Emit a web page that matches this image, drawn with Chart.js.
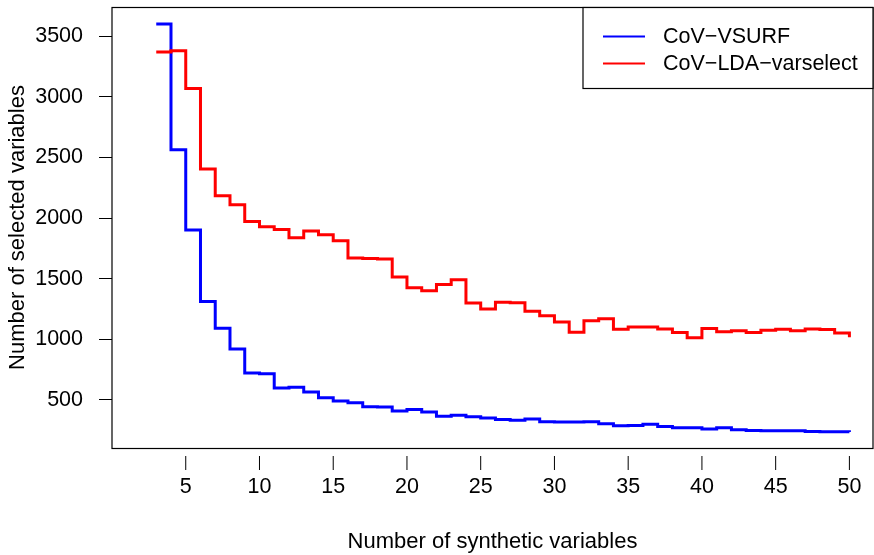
<!DOCTYPE html>
<html>
<head>
<meta charset="utf-8">
<title>Selected variables</title>
<script src="https://cdn.jsdelivr.net/npm/chart.js@4.4.1/dist/chart.umd.min.js"></script>
<style>
  html, body { margin: 0; padding: 0; background: #fff; overflow: hidden; }
  #wrap { position: relative; width: 874px; height: 555px; }
</style>
</head>
<body>
<div id="wrap"><canvas id="stepChart"></canvas></div>
<script>
// number of synthetic variables (x) and selected variables per method
const synthVars = [3, 4, 5, 6, 7, 8, 9, 10, 11, 12, 13, 14, 15, 16, 17, 18, 19, 20, 21, 22, 23, 24, 25, 26,
  27, 28, 29, 30, 31, 32, 33, 34, 35, 36, 37, 38, 39, 40, 41, 42, 43, 44, 45, 46, 47, 48, 49, 50];
const vsurfCounts = [3600, 2563, 1901, 1313, 1091, 920, 722, 716, 599, 606, 566, 519, 492, 478, 444, 442,
  409, 422, 401, 365, 374, 362, 351, 340, 332, 344, 321, 318, 318, 321, 303, 288, 289, 299, 282, 272,
  272, 260, 271, 255, 248, 247, 246, 246, 240, 239, 238, 236];
const ldaCounts = [3370, 3380, 3069, 2404, 2184, 2110, 1972, 1929, 1906, 1838, 1893, 1862, 1813, 1670,
  1667, 1663, 1515, 1425, 1400, 1453, 1491, 1300, 1251, 1305, 1301, 1232, 1194, 1144, 1059, 1154, 1170,
  1084, 1101, 1102, 1086, 1056, 1014, 1089, 1062, 1070, 1056, 1075, 1084, 1070, 1086, 1081, 1053, 1018];
const seriesNames = ["CoV\u2212VSURF", "CoV\u2212LDA\u2212varselect"];
const seriesColors = ["#0000ff", "#ff0000"];
const xTicks = [5, 10, 15, 20, 25, 30, 35, 40, 45, 50];
const yTicks = [500, 1000, 1500, 2000, 2500, 3000, 3500];

const FAMILY = '"Liberation Sans", Arial, sans-serif';
const TICK_FONT = { family: FAMILY, size: 21.5 };
const TITLE_FONT = { family: FAMILY, size: 22 };

function toPoints(values) {
  return synthVars.map((x, i) => ({ x: x, y: values[i] }));
}

// keep the plot region exactly where the fixed axis sizes put it
function noAutoPadding(axis) {
  axis.paddingTop = 0;
  axis.paddingBottom = 0;
  axis.paddingLeft = 0;
  axis.paddingRight = 0;
}

// plot frame, detached x tick marks and the boxed legend
const framePlugin = {
  id: "frame",
  afterDraw(chart) {
    const ctx = chart.ctx;
    const area = chart.chartArea;
    const xScale = chart.scales.x;
    ctx.save();
    ctx.strokeStyle = "#000";
    ctx.lineWidth = 1.2;
    ctx.strokeRect(area.left, area.top + 0.5, area.right - area.left, area.bottom - area.top);

    ctx.lineWidth = 1;
    xTicks.forEach(v => {
      const px = xScale.getPixelForValue(v);
      ctx.beginPath();
      ctx.moveTo(px, area.bottom + 8);
      ctx.lineTo(px, area.bottom + 22);
      ctx.stroke();
    });

    // legend
    const boxW = 290, boxH = 81;
    const bx = area.right - boxW, by = area.top + 0.5;
    ctx.fillStyle = "#fff";
    ctx.fillRect(bx, by, boxW, boxH);
    ctx.lineWidth = 1.2;
    ctx.strokeRect(bx, by, boxW, boxH);
    ctx.font = TICK_FONT.size + "px " + FAMILY;
    ctx.textBaseline = "middle";
    ctx.textAlign = "left";
    chart.data.datasets.forEach((ds, i) => {
      const ry = by + 29 + i * 27;
      ctx.strokeStyle = ds.borderColor;
      ctx.lineWidth = 2.2;
      ctx.beginPath();
      ctx.moveTo(bx + 20, ry);
      ctx.lineTo(bx + 62, ry);
      ctx.stroke();
      ctx.fillStyle = "#000";
      ctx.fillText(ds.label, bx + 80, ry + 1);
    });
    ctx.restore();
  }
};

new Chart(document.getElementById("stepChart"), {
  type: "line",
  data: {
    datasets: [
      {
        label: seriesNames[0],
        data: toPoints(vsurfCounts),
        borderColor: seriesColors[0],
        borderWidth: 3,
        stepped: "before",
        pointRadius: 0,
        fill: false,
        order: 1
      },
      {
        label: seriesNames[1],
        data: toPoints(ldaCounts),
        borderColor: seriesColors[1],
        borderWidth: 3,
        stepped: "before",
        pointRadius: 0,
        fill: false,
        order: 0
      }
    ]
  },
  options: {
    responsive: true,
    maintainAspectRatio: false,
    animation: false,
    layout: { padding: { top: 7, right: 1, left: 0, bottom: 0 } },
    plugins: { legend: { display: false }, tooltip: { enabled: false } },
    scales: {
      x: {
        type: "linear",
        min: 0,
        max: 51.6,
        afterBuildTicks: axis => { axis.ticks = xTicks.map(v => ({ value: v })); },
        afterFit: axis => { axis.height = 107; noAutoPadding(axis); },
        grid: { display: false },
        border: { display: false },
        ticks: {
          font: TICK_FONT,
          color: "#000",
          padding: 18,
          maxRotation: 0,
          autoSkip: false,
          callback: v => String(v)
        },
        title: {
          display: true,
          text: "Number of synthetic variables",
          font: TITLE_FONT,
          color: "#000",
          padding: { top: 0, bottom: 0 }
        }
      },
      y: {
        type: "linear",
        min: 104,
        max: 3741,
        afterBuildTicks: axis => { axis.ticks = yTicks.map(v => ({ value: v })); },
        afterFit: axis => { axis.width = 112; noAutoPadding(axis); },
        grid: { drawOnChartArea: false, tickLength: 13, color: "#000" },
        border: { display: false },
        ticks: {
          font: TICK_FONT,
          color: "#000",
          padding: 16,
          includeBounds: false,
          callback: v => String(v)
        },
        title: {
          display: true,
          text: "Number of selected variables",
          font: TITLE_FONT,
          color: "#000",
          padding: { top: 5, bottom: 0 }
        }
      }
    }
  },
  plugins: [framePlugin]
});
</script>
</body>
</html>
